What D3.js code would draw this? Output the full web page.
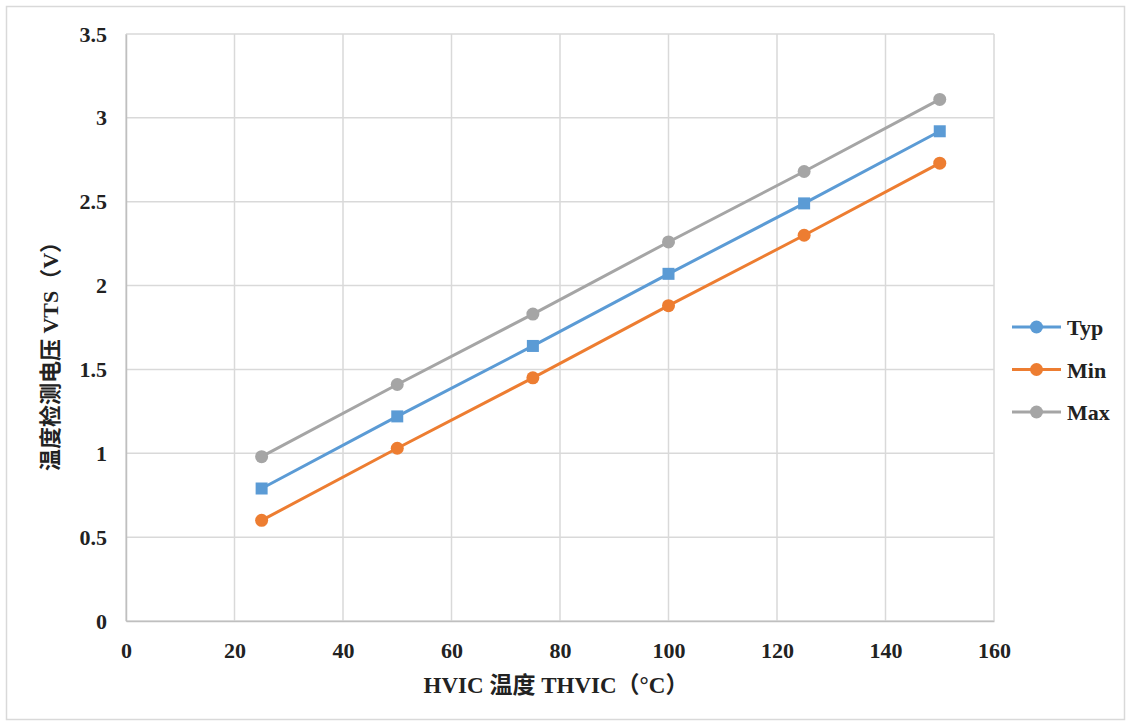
<!DOCTYPE html>
<html>
<head>
<meta charset="utf-8">
<script src="https://cdn.jsdelivr.net/npm/d3@7"></script>
<style>
  body { margin: 0; background: #fff; }
  text { font-family: "Liberation Serif", "Noto Sans CJK SC", serif; font-weight: bold; fill: #222; }
</style>
</head>
<body>
<div id="chart"></div>
<script>
// data
var temps = [25, 50, 75, 100, 125, 150];
var typValues = [0.79, 1.22, 1.64, 2.07, 2.49, 2.92];
var minValues = [0.60, 1.03, 1.45, 1.88, 2.30, 2.73];
var maxValues = [0.98, 1.41, 1.83, 2.26, 2.68, 3.11];
var xTicks = [0, 20, 40, 60, 80, 100, 120, 140, 160];
var yTicks = [0, 0.5, 1, 1.5, 2, 2.5, 3, 3.5];
var seriesNames = ['Typ', 'Min', 'Max'];

var attrs = {
  svgWidth: 1130,
  svgHeight: 727,
  marginLeft: 126,
  marginTop: 34,
  chartWidth: 868,
  chartHeight: 587
};

var series = [
  { name: seriesNames[0], values: typValues, color: '#5b9bd5', marker: 'square' },
  { name: seriesNames[1], values: minValues, color: '#ed7d31', marker: 'circle' },
  { name: seriesNames[2], values: maxValues, color: '#a5a5a5', marker: 'circle' }
];

var svg = d3.select('#chart').append('svg')
  .attr('width', attrs.svgWidth)
  .attr('height', attrs.svgHeight);

// outer frame
svg.append('rect')
  .attr('x', 6.5).attr('y', 6.5)
  .attr('width', 1118).attr('height', 713)
  .attr('fill', 'none').attr('stroke', '#d9d9d9').attr('stroke-width', 1.5);

var chart = svg.append('g')
  .attr('transform', 'translate(' + attrs.marginLeft + ',' + attrs.marginTop + ')');

// scales
var x = d3.scaleLinear().domain([0, 160]).range([0, attrs.chartWidth]);
var y = d3.scaleLinear().domain([0, 3.5]).range([attrs.chartHeight, 0]);

// grid
chart.append('g').selectAll('line.v').data(xTicks).enter().append('line')
  .attr('x1', function (d) { return x(d); }).attr('x2', function (d) { return x(d); })
  .attr('y1', 0).attr('y2', attrs.chartHeight)
  .attr('stroke', '#d9d9d9').attr('stroke-width', 1.5);
chart.append('g').selectAll('line.h').data(yTicks).enter().append('line')
  .attr('x1', 0).attr('x2', attrs.chartWidth)
  .attr('y1', function (d) { return y(d); }).attr('y2', function (d) { return y(d); })
  .attr('stroke', '#d9d9d9').attr('stroke-width', 1.5);

// axes
var axisBottom = d3.axisBottom(x).tickValues(xTicks).tickSize(0).tickPadding(21);
var axisLeft = d3.axisLeft(y).tickValues(yTicks).tickSize(0).tickPadding(19)
  .tickFormat(function (d) { return d; });

var bx = chart.append('g').attr('transform', 'translate(0,' + attrs.chartHeight + ')').call(axisBottom);
var ly = chart.append('g').call(axisLeft);
[bx, ly].forEach(function (g) {
  g.select('.domain').attr('stroke', '#bfbfbf').attr('stroke-width', 1.5);
  g.selectAll('text').attr('font-size', 22).attr('fill', '#222')
    .attr('font-family', '"Liberation Serif", serif').attr('font-weight', 'bold');
});

// lines
var line = d3.line()
  .x(function (d, i) { return x(temps[i]); })
  .y(function (d) { return y(d); });

series.forEach(function (s) {
  chart.append('path')
    .datum(s.values)
    .attr('d', line)
    .attr('fill', 'none')
    .attr('stroke', s.color)
    .attr('stroke-width', 3);
});

series.forEach(function (s) {
  var g = chart.append('g');
  if (s.marker === 'square') {
    g.selectAll('rect').data(s.values).enter().append('rect')
      .attr('x', function (d, i) { return x(temps[i]) - 6; })
      .attr('y', function (d) { return y(d) - 6; })
      .attr('width', 12).attr('height', 12)
      .attr('fill', s.color);
  } else {
    g.selectAll('circle').data(s.values).enter().append('circle')
      .attr('cx', function (d, i) { return x(temps[i]); })
      .attr('cy', function (d) { return y(d); })
      .attr('r', 6.5)
      .attr('fill', s.color);
  }
});

// axis titles
svg.append('text')
  .attr('x', 556).attr('y', 693)
  .attr('text-anchor', 'middle')
  .attr('font-size', 23)
  .text('HVIC 温度 THVIC（°C）');

svg.append('text')
  .attr('transform', 'translate(58,351) rotate(-90)')
  .attr('text-anchor', 'middle')
  .attr('font-size', 22)
  .text('温度检测电压 VTS（V）');

// legend
var legend = svg.append('g').attr('transform', 'translate(1012,327)');
series.forEach(function (s, i) {
  var row = legend.append('g').attr('transform', 'translate(0,' + (i * 42.5) + ')');
  row.append('line').attr('x1', 0).attr('x2', 49).attr('y1', 0).attr('y2', 0)
    .attr('stroke', s.color).attr('stroke-width', 3);
  row.append('circle').attr('cx', 24.5).attr('cy', 0).attr('r', 6.5).attr('fill', s.color);
  row.append('text').attr('x', 55).attr('y', 8).attr('font-size', 22).text(s.name);
});
</script>
</body>
</html>
